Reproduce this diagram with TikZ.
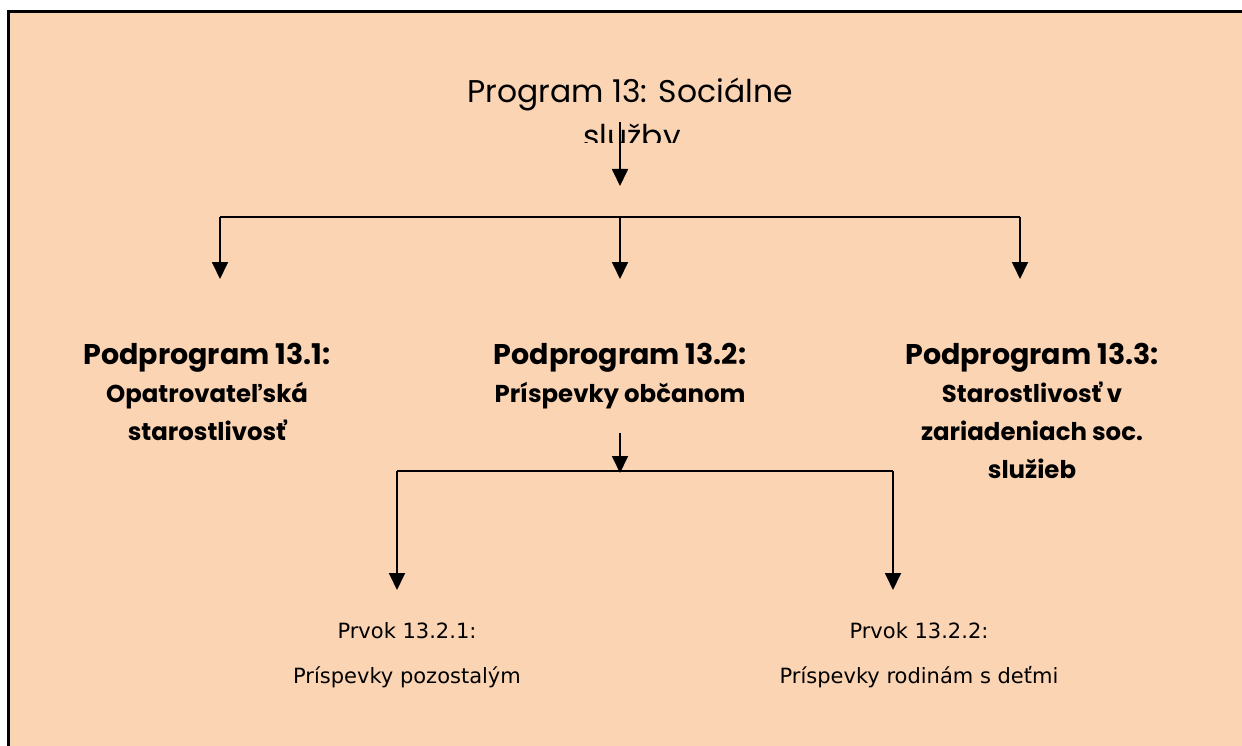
\documentclass[tikz,border=0pt]{standalone}
\usepackage{fontspec}
\setmainfont{Poppins}
\newfontfamily\verd{DejaVu Sans}
\usetikzlibrary{arrows.meta}
\definecolor{peach}{HTML}{FBD4B4}
\tikzset{
  conn/.style={line width=1.8pt, draw=black},
  arr/.style={conn, -{Triangle[width=16pt,length=17pt]}},
  sub/.style={font=\fontsize{28.5}{38}\selectfont\bfseries, align=center, inner sep=0pt, anchor=base},
  elem/.style={font=\verd\fontsize{21}{45}\selectfont, align=center, inner sep=0pt, anchor=base},
  ttl/.style={font=\fontsize{31.4}{45}\selectfont, inner sep=0pt, anchor=base}
}
\newcommand{\sm}[1]{{\fontsize{24.4}{38}\selectfont #1}}
\begin{document}
\begin{tikzpicture}[x=1pt,y=-1pt]
\useasboundingbox (0,0) rectangle (1242,746);
\begin{scope}
\clip (0,0) rectangle (1242,746);
\fill[white] (0,0) rectangle (1242,746);
\draw[fill=peach, line width=3pt] (8.5,11.5) rectangle (1255,760);
\end{scope}
% title (second line clipped)
\begin{scope}
\clip (0,0) rectangle (1242,143);
\node[ttl] (title) at (630,103) {Program 13: Sociálne};
\node[ttl] (title2) at (632,148) {služby};
\end{scope}
% subprograms
\node[sub] (p1) at (207,440) {Podprogram 13.1:\\\sm{Opatrovateľská}\\\sm{starostlivosť}};
\node[sub] (p2) at (620,402) {Podprogram 13.2:\\\sm{Príspevky občanom}};
\node[sub] (p3) at (1032,478) {Podprogram 13.3:\\\sm{Starostlivosť v}\\\sm{zariadeniach soc.}\\\sm{služieb}};
% elements
\node[elem] (e1) at (407,683) {Prvok 13.2.1:\\Príspevky pozostalým};
\node[elem] (e2) at (919,683) {Prvok 13.2.2:\\Príspevky rodinám s deťmi};
% coordinates
\coordinate (t0) at (620,122);
\coordinate (t1) at (620,186);
\coordinate (hL) at (220,217);
\coordinate (hM) at (620,217);
\coordinate (hR) at (1020,217);
\coordinate (aL) at (220,279);
\coordinate (aM) at (620,279);
\coordinate (aR) at (1020,279);
\coordinate (m0) at (620,433);
\coordinate (m1) at (620,473);
\coordinate (bL) at (397,471);
\coordinate (bR) at (893,471);
\coordinate (cL) at (397,590);
\coordinate (cR) at (893,590);
% connectors
\draw[arr] (t0) -- (t1);
\draw[conn] (hL) -- (hR);
\draw[arr] (hL) -- (aL);
\draw[arr] (hM) -- (aM);
\draw[arr] (hR) -- (aR);
\draw[arr] (m0) -- (m1);
\draw[conn] (bL) -- (bR);
\draw[arr] (bL) -- (cL);
\draw[arr] (bR) -- (cR);
\end{tikzpicture}
\end{document}
